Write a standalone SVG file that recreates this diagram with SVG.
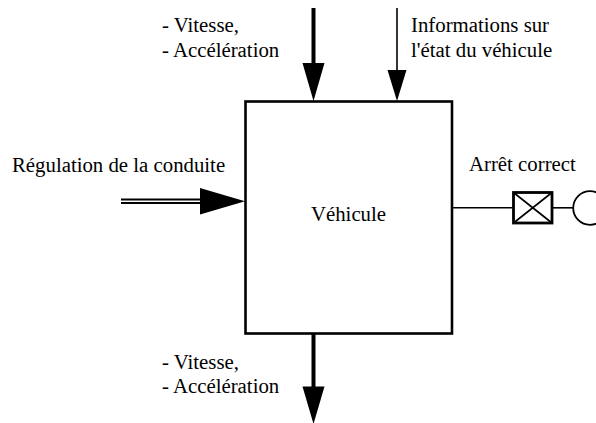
<svg xmlns="http://www.w3.org/2000/svg" width="596" height="423" viewBox="0 0 596 423">
<style>
text{font-family:"Liberation Serif","Times New Roman",serif;font-size:20.8px;fill:#000}
.thin{stroke:#000;stroke-width:1.6;fill:none}
.thick{stroke:#000;stroke-width:4;fill:none}
.head{fill:#000;stroke:none}
</style>
<rect width="596" height="423" fill="#fff"/>
<g id="vehicule">
<rect x="245.5" y="101.5" width="206.5" height="232" fill="#fff" stroke="#000" stroke-width="2.6"/>
<text x="348.5" y="221" text-anchor="middle">Véhicule</text>
</g>
<g id="arret-correct">
<rect x="513.5" y="192.5" width="38.5" height="30.5" fill="#fff" stroke="#000" stroke-width="2.8"/>
<path class="thin" d="M513.5 192.5 L552 223 M552 192.5 L513.5 223"/>
<circle cx="590" cy="208" r="16.8" fill="#fff" stroke="#000" stroke-width="1.8"/>
<text x="469" y="171">Arrêt correct</text>
</g>
<g id="labels">
<text x="162" y="32">- Vitesse,</text>
<text x="162" y="57">- Accélération</text>
<text x="411" y="32">Informations sur</text>
<text x="411" y="57">l'état du véhicule</text>
<text x="12" y="172">Régulation de la conduite</text>
<text x="162" y="369">- Vitesse,</text>
<text x="162" y="393">- Accélération</text>
</g>
<g id="connectors">
<line class="thick" x1="313.5" y1="8" x2="313.5" y2="66"/>
<polygon class="head" points="302.5,63 324.5,63 313.5,101"/>
<line class="thin" x1="397" y1="8" x2="397" y2="72"/>
<polygon class="head" points="387.5,70 406.5,70 397,101"/>
<line x1="121" y1="201.3" x2="204" y2="201.3" stroke="#000" stroke-width="5.6"/>
<line x1="121" y1="201.3" x2="204" y2="201.3" stroke="#fff" stroke-width="1.6"/>
<polygon class="head" points="200,188 200,214.5 245,201.3"/>
<line class="thick" x1="313.5" y1="334" x2="313.5" y2="390"/>
<polygon class="head" points="302.5,386.5 324.5,386.5 313.5,424"/>
<line class="thin" x1="452" y1="207.8" x2="513.5" y2="207.8"/>
<line class="thin" x1="552" y1="207.8" x2="573.2" y2="207.8"/>
</g>
</svg>
